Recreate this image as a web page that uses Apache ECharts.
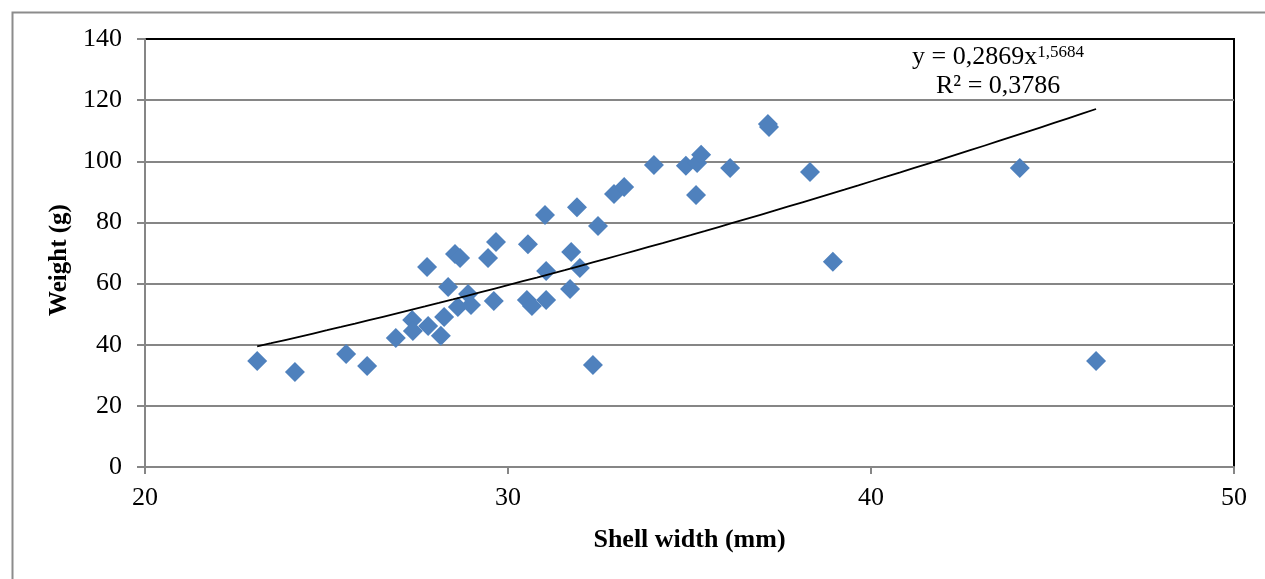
<!DOCTYPE html>
<html>
<head>
<meta charset="utf-8">
<script src="https://cdn.jsdelivr.net/npm/echarts@6/dist/echarts.min.js"></script>
<style>
  html, body { margin: 0; padding: 0; background: #fff; }
  #chart { width: 1265px; height: 579px; }
</style>
</head>
<body>
<div id="chart"></div>
<script>
// shell width (mm) and weight (g)
const shellWidth = [
  23.09, 24.13, 25.54, 26.12, 26.91, 27.36, 27.38, 27.80, 27.77, 28.15,
  28.24, 28.35, 28.54, 28.68, 28.62, 28.90, 28.98, 29.45, 29.61, 29.67,
  30.52, 30.55, 30.66, 31.02, 31.05, 31.05, 31.71, 31.74, 31.90, 31.98,
  32.34, 32.48, 32.92, 33.20, 34.02, 34.90, 35.21, 35.32, 35.18, 36.12,
  37.16, 37.19, 38.32, 38.95, 44.10, 46.20
];
const weight = [
  34.7, 31.1, 37.0, 33.0, 42.2, 48.1, 44.5, 46.1, 65.4, 42.9,
  49.1, 58.9, 69.7, 68.4, 52.3, 56.6, 53.0, 68.4, 54.3, 73.6,
  54.6, 72.9, 52.7, 82.4, 64.1, 54.6, 58.2, 70.3, 85.0, 65.1,
  33.4, 78.8, 89.3, 91.6, 98.8, 98.5, 99.4, 102.1, 89.0, 97.8,
  112.2, 111.2, 96.5, 67.1, 97.8, 34.7
];

// power trendline shown on the chart: y = a * x^b
const trendA = 0.2869;
const trendB = 1.5684;
const yTicks = [0, 20, 40, 60, 80, 100, 120, 140];
const xTicks = [20, 30, 40, 50];

const points = shellWidth.map((x, i) => [x, weight[i]]);

const xMin = Math.min(...shellWidth);
const xMax = Math.max(...shellWidth);
const trend = [];
for (let i = 0; i <= 60; i++) {
  const x = xMin + (xMax - xMin) * i / 60;
  trend.push([x, trendA * Math.pow(x, trendB)]);
}

const font = '"Liberation Serif", "Times New Roman", serif';
const chart = echarts.init(document.getElementById('chart'));

chart.setOption({
  animation: false,
  backgroundColor: '#fff',
  grid: {
    left: 145,
    right: 31,
    top: 39,
    bottom: 112,
    show: true,
    borderColor: '#000',
    borderWidth: 2
  },
  graphic: [
    {
      type: 'rect',
      left: 10,
      top: 10,
      shape: { width: 1270, height: 600 },
      style: { fill: 'none', stroke: '#8c8c8c', lineWidth: 2 },
      silent: true,
      z: -10
    },
    {
      type: 'text',
      left: 912,
      top: 44,
      style: {
        text: '{m|y = 0,2869x}{s|1,5684}',
        rich: {
          m: { fontFamily: font, fontSize: 26, fill: '#000' },
          s: { fontFamily: font, fontSize: 17, fill: '#000', verticalAlign: 'top' }
        }
      }
    },
    {
      type: 'text',
      left: 936,
      top: 73,
      style: { text: 'R² = 0,3786', fontFamily: font, fontSize: 26, fill: '#000' }
    }
  ],
  xAxis: {
    type: 'value',
    min: 20,
    max: 50,
    interval: 10,
    name: 'Shell width (mm)',
    nameLocation: 'middle',
    nameGap: 60,
    nameTextStyle: { fontFamily: font, fontSize: 26, fontWeight: 'bold', color: '#000' },
    axisLine: { show: true, onZero: false, lineStyle: { color: '#868686', width: 2 } },
    axisTick: { show: true, length: 7, lineStyle: { color: '#868686', width: 2 } },
    axisLabel: {
      fontFamily: font, fontSize: 26, color: '#000', margin: 18,
      formatter: v => xTicks.includes(v) ? String(v) : ''
    },
    splitLine: { show: false }
  },
  yAxis: {
    type: 'value',
    min: 0,
    max: 140,
    interval: 20,
    name: 'Weight (g)',
    nameLocation: 'middle',
    nameGap: 68,
    nameTextStyle: {
      fontFamily: font, fontSize: 25, fontWeight: 'bold', color: '#000',
      padding: [0, 14, 0, 0]
    },
    axisLine: { show: true, lineStyle: { color: '#868686', width: 2 } },
    axisTick: { show: true, length: 8, lineStyle: { color: '#868686', width: 2 } },
    axisLabel: {
      fontFamily: font, fontSize: 26, color: '#000', margin: 23,
      formatter: v => yTicks.includes(v) ? String(v) : ''
    },
    splitLine: { show: true, showMaxLine: false, lineStyle: { color: '#868686', width: 2 } }
  },
  series: [
    {
      type: 'scatter',
      data: points,
      symbol: 'diamond',
      symbolSize: 20,
      itemStyle: { color: '#4F81BD', opacity: 1 },
      z: 3
    },
    {
      type: 'line',
      data: trend,
      showSymbol: false,
      smooth: false,
      lineStyle: { color: '#000', width: 1.8 },
      z: 4
    }
  ]
});
</script>
</body>
</html>
